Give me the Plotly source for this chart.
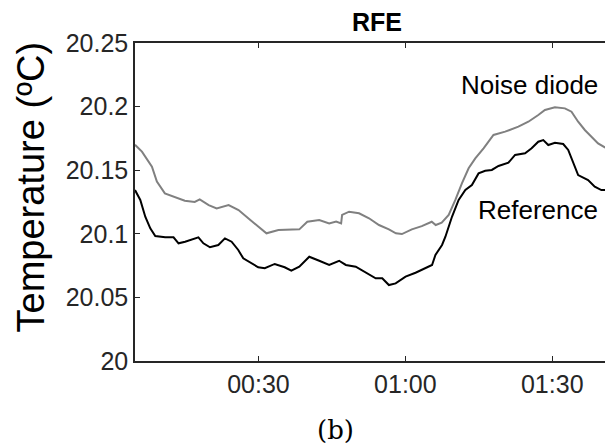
import plotly.graph_objects as go

# time in minutes since 00:00
noise_t = [4.78, 6.20, 8.24, 9.25, 10.88, 12.92, 14.95, 16.98, 18.00, 19.83, 21.46, 23.90,
           25.93, 27.97, 30.00, 31.63, 34.07, 36.71, 38.34, 39.97, 42.41, 44.44, 45.86,
           46.88, 47.08, 48.51, 50.54, 52.58, 54.61, 56.64, 58.07, 59.29, 61.32, 63.36,
           65.39, 66.20, 67.42, 68.85, 70.21, 71.55, 72.92, 74.28, 75.97, 78.00, 80.38,
           83.08, 85.12, 87.15, 88.51, 90.55, 92.58, 93.93, 95.29, 96.65, 97.99, 99.36,
           100.72, 102.0]
noise_v = [20.170, 20.1646, 20.1528, 20.141, 20.1318, 20.129, 20.126, 20.125, 20.127, 20.1226,
           20.120, 20.1226, 20.1187, 20.112, 20.1056, 20.1004, 20.103, 20.1035, 20.1035,
           20.1095, 20.1108, 20.1082, 20.1097, 20.1082, 20.1148, 20.1174, 20.1161, 20.1122,
           20.1069, 20.1035, 20.1004, 20.0998, 20.1035, 20.106, 20.1095, 20.1069, 20.1087,
           20.1148, 20.1266, 20.1397, 20.1515, 20.1593, 20.1672, 20.1777, 20.1803, 20.1842,
           20.1881, 20.1934, 20.1973, 20.1994, 20.1986, 20.196, 20.1881, 20.1816, 20.1763,
           20.1711, 20.168, 20.1664]

ref_t = [4.78, 5.86, 6.88, 7.90, 8.92, 10.94, 12.65, 13.67, 15.01, 16.37, 17.73, 18.75, 20.09,
         21.80, 23.15, 24.51, 25.87, 26.89, 28.58, 29.94, 31.28, 33.32, 35.35, 36.71, 38.34,
         40.37, 42.41, 44.44, 46.47, 47.84, 49.87, 51.91, 53.94, 55.28, 56.64, 58.01, 60.04,
         62.08, 64.11, 65.45, 66.14, 67.49, 68.18, 69.52, 70.88, 72.25, 73.59, 74.95, 76.31,
         77.66, 79.02, 81.05, 82.41, 84.45, 85.79, 87.15, 88.17, 89.19, 90.55, 92.24, 93.26,
         94.62, 95.29, 97.32, 98.68, 100.03, 102.0]
ref_v = [20.1344, 20.1266, 20.1134, 20.1043, 20.0983, 20.0972, 20.0972, 20.0925, 20.0938,
         20.0957, 20.0972, 20.0925, 20.0894, 20.0912, 20.0964, 20.0938, 20.0873, 20.0807,
         20.0768, 20.0737, 20.0729, 20.0763, 20.0737, 20.071, 20.0741, 20.082, 20.0788,
         20.0755, 20.0788, 20.0755, 20.0741, 20.0694, 20.065, 20.065, 20.0597, 20.061,
         20.0663, 20.0694, 20.0729, 20.0755, 20.0833, 20.0912, 20.0977, 20.1134, 20.1266,
         20.1344, 20.1384, 20.1475, 20.1496, 20.1502, 20.1533, 20.1559, 20.162, 20.1633,
         20.1672, 20.1724, 20.1737, 20.1698, 20.1716, 20.1706, 20.1659, 20.1528, 20.1462,
         20.1423, 20.137, 20.1344, 20.1344]

x_tickvals = [30, 60, 90]
x_ticktext = ["00:30", "01:00", "01:30"]
y_tickvals = [20, 20.05, 20.1, 20.15, 20.2, 20.25]
y_ticktext = ["20", "20.05", "20.1", "20.15", "20.2", "20.25"]

AX = "#262626"
FONT = "Liberation Sans, Arial, sans-serif"

fig = go.Figure()
fig.add_trace(go.Scatter(x=noise_t, y=noise_v, mode="lines", name="Noise diode",
                         line=dict(color="#808080", width=2)))
fig.add_trace(go.Scatter(x=ref_t, y=ref_v, mode="lines", name="Reference",
                         line=dict(color="#000000", width=2)))

# the page body adds an 8px offset, so the figure is 8px smaller than the window
fig.update_layout(
    width=605, height=436,
    margin=dict(l=127, r=0, t=35, b=83),
    paper_bgcolor="white", plot_bgcolor="white",
    showlegend=False,
    font=dict(family=FONT, color=AX),
    title=dict(text="<b>RFE</b>", x=0.61, xanchor="center", y=0.967, yanchor="middle",
               yref="container", font=dict(size=25, color="#000000", family=FONT)),
    xaxis=dict(range=[4.78, 102.0], tickvals=x_tickvals, ticktext=x_ticktext,
               ticks="inside", ticklen=5, tickcolor=AX, showline=True, linecolor=AX,
               linewidth=1.5, mirror="ticks", showgrid=False, zeroline=False,
               tickfont=dict(size=25, color=AX)),
    yaxis=dict(range=[20, 20.25], tickvals=y_tickvals, ticktext=y_ticktext,
               ticks="inside", ticklen=5, tickcolor=AX, showline=True, linecolor=AX,
               linewidth=1.5, mirror="ticks", showgrid=False, zeroline=False,
               tickfont=dict(size=25, color=AX)),
    annotations=[
        dict(text="Temperature (ºC)", xref="paper", yref="paper", x=-0.2176, y=0.547,
             textangle=-90, showarrow=False, xanchor="center", yanchor="middle",
             font=dict(size=38, color="#000000", family=FONT)),
        dict(text="Noise diode", xref="x", yref="y", x=99.75, y=20.217, xanchor="right",
             yanchor="middle", showarrow=False, font=dict(size=26, color="#000000", family=FONT)),
        dict(text="Reference", xref="x", yref="y", x=99.75, y=20.1187, xanchor="right",
             yanchor="middle", showarrow=False, font=dict(size=26, color="#000000", family=FONT)),
        dict(text="(b)", xref="paper", yref="paper", x=0.4205, y=-0.217, xanchor="center",
             yanchor="middle", showarrow=False,
             font=dict(size=26, color="#000000", family="DejaVu Serif, Liberation Serif, serif")),
    ],
)

fig.write_html("out.html")
